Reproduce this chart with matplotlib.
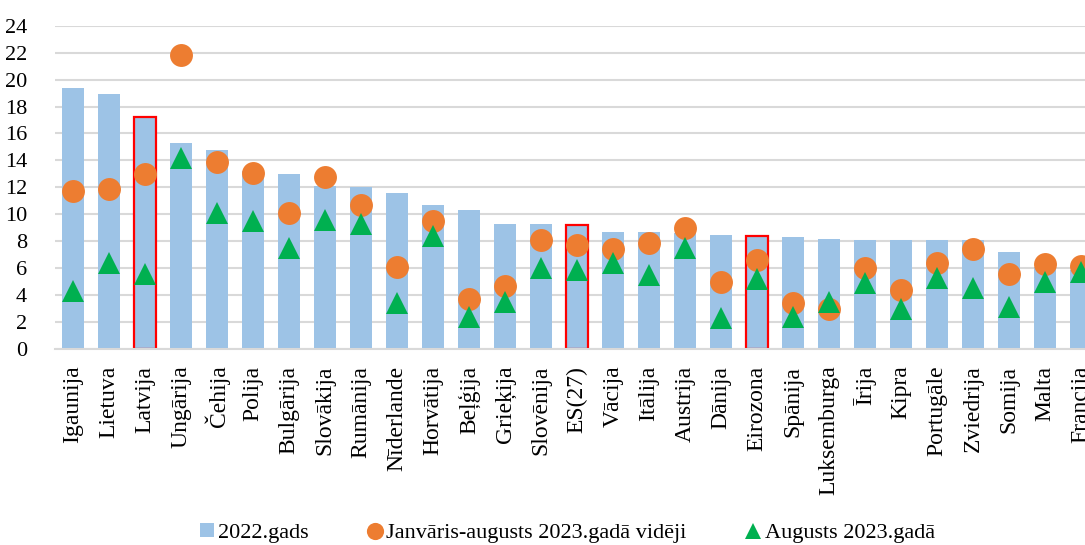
import numpy as np
import matplotlib.pyplot as plt

# valstis un rādītāji (%)
valstis = ["Igaunija", "Lietuva", "Latvija", "Ungārija", "Čehija", "Polija",
           "Bulgārija", "Slovākija", "Rumānija", "Nīderlande", "Horvātija",
           "Beļģija", "Grieķija", "Slovēnija", "ES(27)", "Vācija", "Itālija",
           "Austrija", "Dānija", "Eirozona", "Spānija", "Luksemburga", "Īrija",
           "Kipra", "Portugāle", "Zviedrija", "Somija", "Malta", "Francija"]
gads_2022 = [19.4, 18.9, 17.2, 15.3, 14.8, 13.2, 13.0, 12.1, 12.0, 11.6, 10.7,
             10.3, 9.3, 9.3, 9.2, 8.7, 8.7, 8.6, 8.5, 8.4, 8.3, 8.2, 8.1,
             8.1, 8.1, 8.1, 7.2, 6.1, 5.9]
jan_aug_2023 = [11.7, 11.9, 13.0, 21.8, 13.9, 13.1, 10.1, 12.8, 10.7, 6.1, 9.5,
                3.7, 4.7, 8.1, 7.7, 7.4, 7.9, 9.0, 5.0, 6.6, 3.4, 3.0, 6.0,
                4.4, 6.4, 7.4, 5.6, 6.3, 6.2]
aug_2023 = [4.3, 6.4, 5.6, 14.2, 10.1, 9.5, 7.5, 9.6, 9.3, 3.4, 8.4,
            2.4, 3.5, 6.0, 5.9, 6.4, 5.5, 7.5, 2.3, 5.2, 2.4, 3.5, 4.9,
            3.0, 5.3, 4.5, 3.1, 5.0, 5.7]
izcelti = ["Latvija", "ES(27)", "Eirozona"]

plt.rcParams["font.family"] = ["Liberation Serif", "DejaVu Serif"]

fig = plt.figure(figsize=(10.85, 5.45), dpi=100)
# zīmējuma laukums iziet ārpus attēla labās malas (Francija nogriezta kā oriģinālā)
ax = fig.add_axes([0.0507, 0.3596, 0.9622, 0.5932])

x = np.arange(len(valstis))
edge = ["#FF0000" if v in izcelti else "none" for v in valstis]
bars = ax.bar(x, gads_2022, width=0.62, color="#9DC3E6", edgecolor=edge,
              linewidth=1.6, label="2022.gads", zorder=2)
apli, = ax.plot(x, jan_aug_2023, "o", color="#ED7D31", markersize=16.5,
                markeredgewidth=0, label="Janvāris-augusts 2023.gadā vidēji",
                zorder=3)
trijst, = ax.plot(x, aug_2023, "^", color="#00B050", markersize=16,
                  markeredgewidth=0, label="Augusts 2023.gadā", zorder=4)

ax.set_xlim(-0.5, len(valstis) - 0.5)
ax.set_ylim(0, 24)
ax.set_yticks(np.arange(0, 25, 2))
ax.set_xticks(x)
ax.set_xticklabels(valstis, rotation=90, fontsize=17)
ax.tick_params(axis="y", labelsize=16, length=0, pad=20)
ax.tick_params(axis="x", length=0, pad=12)

ax.set_axisbelow(True)
ax.grid(axis="y", color="#D9D9D9", linewidth=1.5, zorder=0)
for s in ["top", "right", "left"]:
    ax.spines[s].set_visible(False)
ax.spines["bottom"].set_color("#D9D9D9")
ax.spines["bottom"].set_linewidth(1.5)

fig.legend([bars, apli, trijst],
           ["2022.gads", "Janvāris-augusts 2023.gadā vidēji", "Augusts 2023.gadā"],
           loc="center", bbox_to_anchor=(0.523, 0.022), ncol=3, frameon=False,
           fontsize=16, handlelength=0.6, handleheight=0.6, handletextpad=0.2,
           columnspacing=2.7, markerscale=0.75, borderpad=0.2)

fig.savefig("out.png", dpi=100)
